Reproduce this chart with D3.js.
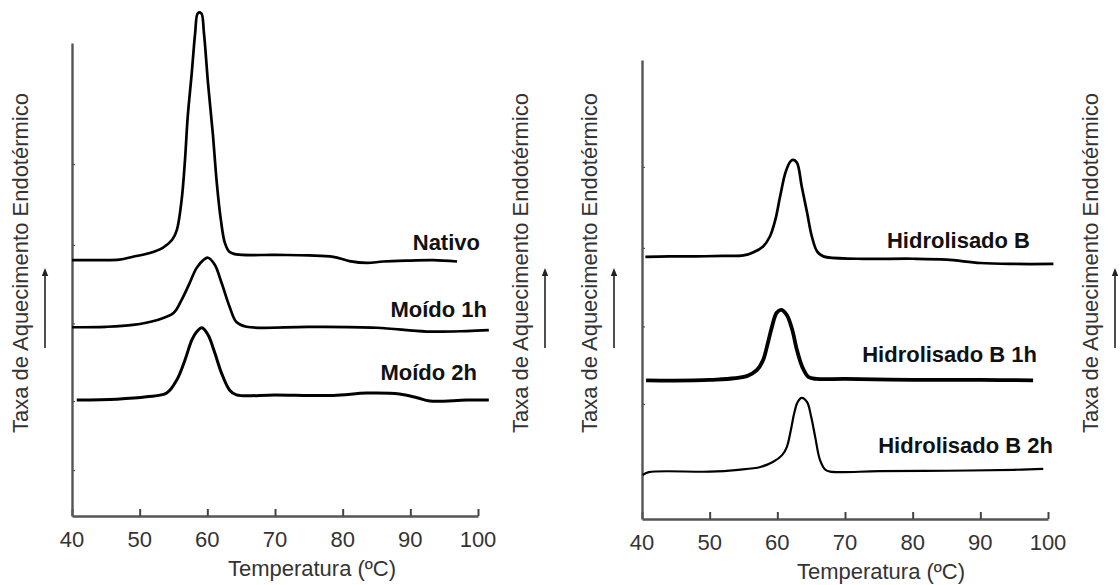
<!DOCTYPE html>
<html>
<head>
<meta charset="utf-8">
<script src="https://cdn.jsdelivr.net/npm/d3@7"></script>
<style>
  html, body { margin: 0; padding: 0; background: #fff; }
  svg { display: block; }
  text { font-family: "Liberation Sans", Arial, Helvetica, sans-serif; }
</style>
</head>
<body>
<svg id="chart" width="1120" height="585"></svg>
<script>
// ---------------- DATA ----------------
const xTickValues = [40, 50, 60, 70, 80, 90, 100];
const xTitle = "Temperatura (ºC)";
const yTitle = "Taxa de Aquecimento Endotérmico";
const yMinorTicks = [9.7, 24.3, 40.7, 57.3, 74.4];

// Left panel (temperature °C, heat flow in arbitrary units)
const nativoT = [40, 44, 47, 49, 51.5, 53.4, 54.8, 55.5, 56.2, 56.7, 57.1, 57.7, 58.2, 58.6, 59.1, 59.5, 60.1, 60.8, 61.4, 62, 62.6, 63.3, 64.3, 70, 75, 78.6, 81, 83.6, 86, 90, 93.4, 96.9];
const nativoV = [54.1, 54.1, 54.2, 54.8, 55.6, 56.7, 58.4, 60.5, 66.8, 75.3, 84.4, 93.7, 102.1, 106.3, 106.3, 102.1, 91.5, 81.0, 70.4, 62.6, 57.7, 55.8, 55.3, 55.2, 55.1, 54.8, 53.9, 53.5, 53.8, 54.0, 54.1, 53.8];

const moido1hT = [40, 45, 49, 52.5, 55, 56.2, 57.4, 58.4, 59.4, 60.1, 61.1, 62.1, 63.3, 64.3, 65.8, 75, 85, 92.4, 98.3, 101.6];
const moido1hV = [39.9, 40.0, 40.4, 41.4, 42.9, 45.7, 49.3, 52.4, 54.1, 54.6, 53.1, 49.3, 44.2, 41.0, 40.0, 40.0, 39.8, 39.0, 39.1, 39.3];

const moido2hT = [40.7, 46.6, 51, 54, 55.5, 56.7, 57.7, 58.4, 59.2, 60.1, 61.1, 62.1, 63.3, 64.3, 70, 78.6, 83.6, 88.4, 91, 92.9, 98.3, 101.6];
const moido2hV = [24.5, 24.7, 25.2, 26.0, 28.8, 33.0, 37.2, 38.9, 39.8, 38.3, 34.5, 30.2, 26.6, 25.6, 25.6, 25.5, 26.0, 25.8, 25.0, 24.3, 24.5, 24.5];

// Right panel
const hidBT = [40.5, 44, 48, 52, 55, 56.4, 57.9, 58.9, 59.7, 60.4, 61.2, 61.9, 62.3, 62.9, 63.6, 64.4, 65.1, 65.9, 66.8, 71.8, 80, 85, 90, 95, 100.8];
const hidBV = [55.4, 55.5, 55.5, 55.6, 55.7, 56.3, 57.6, 59.7, 63.2, 68.1, 73.2, 75.5, 75.9, 75.3, 70.3, 64.7, 59.7, 56.5, 55.5, 55.0, 55.0, 54.8, 54.1, 53.9, 53.9];

const hidB1hT = [40.6, 50, 55.5, 57, 57.9, 58.6, 59.2, 59.9, 60.6, 61.4, 62.2, 62.9, 63.7, 64.6, 65.8, 70, 80, 90, 97.8];
const hidB1hV = [29.3, 29.4, 30.2, 31.5, 33.6, 37.2, 40.6, 43.6, 44.2, 43.1, 40.0, 35.7, 32.1, 30.0, 29.6, 29.6, 29.4, 29.4, 29.3];

const hidB2hT = [40.1, 41, 50, 54.2, 57.5, 59.4, 60.7, 61.4, 62, 62.5, 63, 63.6, 64.4, 65, 65.6, 66.3, 67.1, 67.8, 75, 85, 95, 99.3];
const hidB2hV = [9.3, 9.9, 10.0, 10.4, 11.0, 12.1, 13.5, 15.2, 18.8, 22.4, 24.7, 25.6, 24.7, 21.6, 17.3, 12.5, 10.4, 10.0, 10.1, 10.2, 10.4, 10.6];

const leftNames = ["Nativo", "Moído 1h", "Moído 2h"];
const rightNames = ["Hidrolisado B", "Hidrolisado B 1h", "Hidrolisado B 2h"];

// ---------------- DRAWING ----------------
const svg = d3.select("#chart");
const zip = (T, V) => T.map((t, i) => ({ t, v: V[i] }));
const FS = 22;

const panels = [
  {
    xRange: [72, 478], yRange: [516, 43], yMax: 100,
    series: [
      { name: leftNames[0], data: zip(nativoT, nativoV), w: 2.7, lx: 480, ly: 250 },
      { name: leftNames[1], data: zip(moido1hT, moido1hV), w: 2.7, lx: 487, ly: 317 },
      { name: leftNames[2], data: zip(moido2hT, moido2hV), w: 3.0, lx: 477, ly: 380 }
    ],
    tickY: 547, titleX: 312, titleY: 576,
    yLabels: [{ x: 28, arrowX: 45 }]
  },
  {
    xRange: [642, 1048], yRange: [519, 60], yMax: 97,
    series: [
      { name: rightNames[0], data: zip(hidBT, hidBV), w: 2.7, lx: 1030, ly: 248 },
      { name: rightNames[1], data: zip(hidB1hT, hidB1hV), w: 3.8, lx: 1037, ly: 362 },
      { name: rightNames[2], data: zip(hidB2hT, hidB2hV), w: 2.2, lx: 1053, ly: 453 }
    ],
    tickY: 550, titleX: 881, titleY: 579,
    yLabels: [{ x: 528, arrowX: 545 }, { x: 597, arrowX: 614 }, { x: 1098, arrowX: 1115 }]
  }
];

svg.append("defs").append("marker")
  .attr("id", "arrowhead").attr("viewBox", "0 0 10 10")
  .attr("refX", 5).attr("refY", 5)
  .attr("markerWidth", 5).attr("markerHeight", 5)
  .attr("orient", "auto")
  .append("path").attr("d", "M0,1 L10,5 L0,9 Z").attr("fill", "#222");

panels.forEach(p => {
  const x = d3.scaleLinear().domain([40, 100]).range(p.xRange);
  const y = d3.scaleLinear().domain([0, p.yMax]).range(p.yRange);

  // x axis (ticks pointing inward)
  const gx = svg.append("g")
    .attr("transform", `translate(0,${p.yRange[0]})`)
    .call(d3.axisBottom(x).tickValues(xTickValues).tickSize(-7).tickSizeOuter(0).tickFormat(""));
  gx.select(".domain").attr("stroke", "#555").attr("stroke-width", 2.4);
  gx.selectAll(".tick line").attr("stroke", "#444").attr("stroke-width", 2);

  // tick labels
  svg.append("g").selectAll("text").data(xTickValues).join("text")
    .attr("x", d => x(d)).attr("y", p.tickY)
    .attr("text-anchor", "middle")
    .attr("font-size", FS).attr("fill", "#333")
    .text(d => d);

  // y axis
  const gy = svg.append("g")
    .attr("transform", `translate(${p.xRange[0]},0)`)
    .call(d3.axisLeft(y).tickValues(yMinorTicks).tickSize(-3).tickSizeOuter(0).tickFormat(""));
  gy.select(".domain").attr("stroke", "#555").attr("stroke-width", 2.4);
  gy.selectAll(".tick line").attr("stroke", "#555").attr("stroke-width", 1.2);

  // x title
  svg.append("text")
    .attr("x", p.titleX).attr("y", p.titleY)
    .attr("text-anchor", "middle")
    .attr("font-size", FS).attr("fill", "#333")
    .text(xTitle);

  // y titles with arrows
  p.yLabels.forEach(l => {
    svg.append("text")
      .attr("transform", `translate(${l.x},263) rotate(-90)`)
      .attr("text-anchor", "middle")
      .attr("font-size", FS).attr("fill", "#333")
      .text(yTitle);
    svg.append("line")
      .attr("x1", l.arrowX).attr("x2", l.arrowX)
      .attr("y1", 348).attr("y2", 272)
      .attr("stroke", "#222").attr("stroke-width", 1.6)
      .attr("marker-end", "url(#arrowhead)");
  });

  // curves
  const line = d3.line().x(d => x(d.t)).y(d => y(d.v)).curve(d3.curveCatmullRom.alpha(0.5));
  p.series.forEach(s => {
    svg.append("path")
      .datum(s.data)
      .attr("d", line)
      .attr("fill", "none")
      .attr("stroke", "#000")
      .attr("stroke-width", s.w)
      .attr("stroke-linejoin", "round");
    svg.append("text")
      .attr("x", s.lx).attr("y", s.ly)
      .attr("text-anchor", "end")
      .attr("font-size", FS).attr("font-weight", "bold").attr("fill", "#111")
      .text(s.name);
  });
});
</script>
</body>
</html>
